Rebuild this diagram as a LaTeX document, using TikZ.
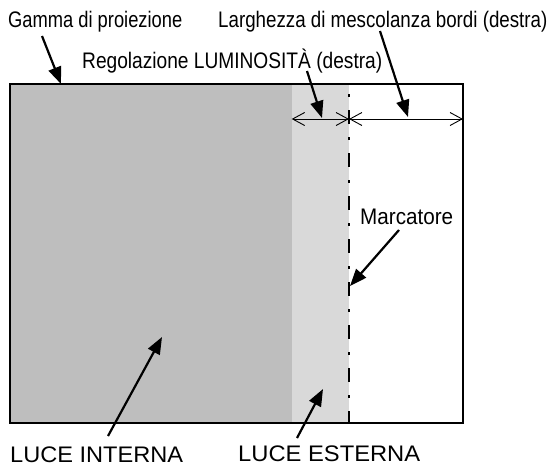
\documentclass[tikz,border=0pt]{standalone}
\usepackage{fontspec}
\setmainfont{Liberation Sans}
\usetikzlibrary{arrows.meta}
\definecolor{innerfill}{RGB}{190,190,190}
\definecolor{outerfill}{RGB}{217,217,217}
\begin{document}
\begin{tikzpicture}[x=1pt,y=-1pt,
  lbl/.style={anchor=base west,inner sep=0pt,font=\fontsize{22.5}{27}\selectfont},
  callout/.style={line width=2.2pt,-{Triangle[length=17pt,width=13pt]}},
  dimline/.style={line width=0.9pt,{Straight Barb[length=12pt,width=13pt]}-{Straight Barb[length=12pt,width=13pt]}},
  frame/.style={line width=1.6pt},
  markerline/.style={line width=2.6pt,dash pattern=on 14pt off 13pt on 3pt off 13pt,dash phase=17pt}]
\useasboundingbox (0,0) rectangle (554,466);
% regions
\fill[innerfill] (10,84) rectangle (291.7,423);
\fill[outerfill] (291.7,84) rectangle (349,423);
\draw[frame] (10,84) rectangle (463,423);
% marker line
\coordinate (mtop) at (349,84);
\coordinate (mbot) at (349,423);
\draw[markerline] (mtop) -- (mbot);
% dimension lines
\coordinate (dL) at (291.7,119);
\coordinate (dM) at (349,119);
\coordinate (dR) at (463,119);
\draw[dimline] (dL) -- (dM);
\draw[dimline] (dM) -- (dR);
% labels
\node[lbl] (gamma) at (8,27) {\scalebox{0.814}[1]{Gamma di proiezione}};
\node[lbl] (larg) at (218,27) {\scalebox{0.833}[1]{Larghezza di mescolanza bordi (destra)}};
\node[lbl] (reg) at (82,68) {\scalebox{0.851}[1]{Regolazione LUMINOSITÀ (destra)}};
\node[lbl] (marc) at (360,224) {\scalebox{0.918}[1]{Marcatore}};
\node[lbl] (lint) at (10,462) {\scalebox{1.048}[1]{LUCE INTERNA}};
\node[lbl] (lest) at (238,461) {\scalebox{1.055}[1]{LUCE ESTERNA}};
% callout arrows
\coordinate (gS) at (42,36);   \coordinate (gT) at (61,84);
\coordinate (lS) at (380,31);  \coordinate (lT) at (408,117);
\coordinate (rS) at (307,71);  \coordinate (rT) at (322,118);
\coordinate (mS) at (399,230); \coordinate (mT) at (350,286);
\coordinate (iS) at (108,436); \coordinate (iT) at (162,337);
\coordinate (eS) at (297,438); \coordinate (eT) at (323,389);
\draw[callout] (gS) -- (gT);
\draw[callout] (lS) -- (lT);
\draw[callout] (rS) -- (rT);
\draw[callout] (mS) -- (mT);
\draw[callout] (iS) -- (iT);
\draw[callout] (eS) -- (eT);
\end{tikzpicture}
\end{document}
